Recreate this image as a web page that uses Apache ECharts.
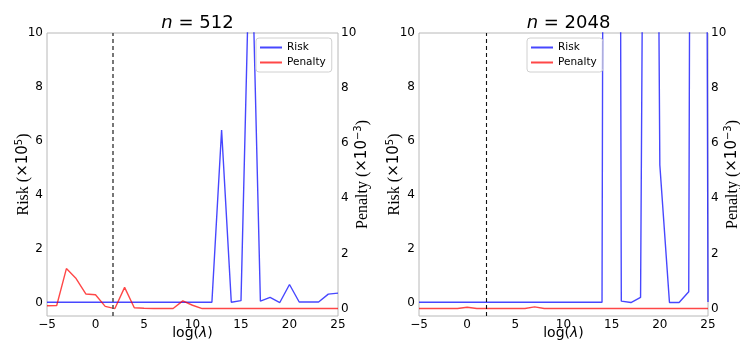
<!DOCTYPE html>
<html><head><meta charset="utf-8">
<script src="https://cdn.jsdelivr.net/npm/echarts@6/dist/echarts.min.js"></script>
<style>html,body{margin:0;padding:0;background:#fff}#c{width:740px;height:344px}</style>
</head><body><div id="c"></div>
<script>
// ----- data -----
const logLambda = [-5,-4,-3,-2,-1,0,1,2,3,4,5,6,7,8,9,10,11,12,13,14,15,16,17,18,19,20,21,22,23,24,25];
// n = 512  (Risk in 1e5, Penalty in 1e-3)
const risk512 = [0.01,0.01,0.01,0.01,0.01,0.01,0.01,0.01,0.01,0.01,0.01,0.01,0.01,0.01,0.01,0.01,0.01,0.01,
                 6.4,0.01,0.07,15,0.05,0.19,0.0,0.67,0.02,0.02,0.02,0.31,0.35];
const penalty512 = [0.1,0.11,1.45,1.09,0.53,0.5,0.08,0.0,0.77,0.03,0.01,0.0,0.0,0.0,0.28,0.12,
                    0,0,0,0,0,0,0,0,0,0,0,0,0,0,0];
// n = 2048
const risk2048 = [0.01,0.01,0.01,0.01,0.01,0.01,0.01,0.01,0.01,0.01,0.01,0.01,0.01,0.01,0.01,0.01,0.01,0.01,0.01,0.01,
                  150,0.05,0.0,0.19,60,5.1,0.0,0.0,0.4,120,0.02];
const penalty2048 = [0,0,0,0,0,0.05,0,0,0,0,0,0,0.06,0,0,0,0,0,0,0,0,0,0,0,0,0,0,0,0,0,0];
const optimalLogLambda = [1.8, 2.0];
const titles = ['512', '2048'];
const xTicks = [-5,0,5,10,15,20,25];
const yTicks = [0,2,4,6,8,10];
const seriesNames = ['Risk', 'Penalty'];

// ----- chart -----
const chart = echarts.init(document.getElementById('c'), null, {renderer:'canvas'});
const SANS = 'DejaVu Sans';
const SERIF = 'Liberation Serif';
const grids = [
  {left:47, top:33, width:291, height:283},
  {left:419, top:33, width:289, height:283}
];
const pair = (ys) => logLambda.map((x,i)=>[x, ys[i]]);
const minusFmt = v => String(v).replace('-', '\u2212');

const xAxes = grids.map((g,i)=>({
  type:'value', gridIndex:i, min:-5, max:25, interval:5,
  axisLine:{show:false}, axisTick:{show:false}, splitLine:{show:false},
  axisLabel:{fontFamily:SANS, fontSize:12, color:'#000', margin:3, formatter:minusFmt, customValues:xTicks},
  name:'log({l|λ})', nameLocation:'middle', nameGap:10, nameMoveOverlap:false,
  nameTextStyle:{fontFamily:SANS, fontSize:14, color:'#000', rich:{l:{fontFamily:SANS, fontStyle:'italic', fontSize:14}}}
}));
function yName(a, b) {
  return '{a|' + a + ' (}{b|×10}{s|' + b + '}{a|)}';
}
const nameRich = {
  a:{fontFamily:SERIF, fontSize:16, color:'#000'},
  b:{fontFamily:SANS, fontSize:15, color:'#000'},
  s:{fontFamily:SANS, fontSize:10, color:'#000', padding:[0,0,9,0]}
};
const yAxes = [];
grids.forEach((g,i)=>{
  yAxes.push({
    type:'value', gridIndex:i, position:'left', min:-0.5, max:10,
    axisLine:{show:false}, axisTick:{show:false}, splitLine:{show:false},
    axisLabel:{fontFamily:SANS, fontSize:12, color:'#000', margin:4, customValues:yTicks},
    name:yName('Risk','5'), nameLocation:'middle', nameGap:i===0?14:15, nameRotate:90, nameMoveOverlap:false,
    nameTextStyle:{rich:nameRich}
  });
  yAxes.push({
    type:'value', gridIndex:i, position:'right', min:-0.27, max:10,
    axisLine:{show:false}, axisTick:{show:false}, splitLine:{show:false},
    axisLabel:{fontFamily:SANS, fontSize:12, color:'#000', margin:3, customValues:yTicks},
    name:yName('Penalty','\u22123'), nameLocation:'middle', nameGap:15, nameRotate:90, nameMoveOverlap:false,
    nameTextStyle:{rich:nameRich}
  });
});
const riskColor = 'rgba(0,0,255,0.72)';
const penColor = 'rgba(255,0,0,0.72)';
const series = [];
[[risk512, penalty512],[risk2048, penalty2048]].forEach((d,i)=>{
  series.push({
    name:seriesNames[0], type:'line', xAxisIndex:i, yAxisIndex:2*i, data:pair(d[0]),
    symbol:'none', lineStyle:{color:riskColor, width:1.4}, itemStyle:{color:riskColor},
    markLine:{silent:true, symbol:'none', label:{show:false},
      lineStyle:{color:i===0?'#555':'#111', type:[4,3], width:i===0?1.6:1.1},
      data:[{xAxis:optimalLogLambda[i]}]}
  });
  series.push({
    name:seriesNames[1], type:'line', xAxisIndex:i, yAxisIndex:2*i+1, data:pair(d[1]),
    symbol:'none', lineStyle:{color:penColor, width:1.4}, itemStyle:{color:penColor}
  });
});

chart.setOption({
  animation:false,
  backgroundColor:'#fff',
  title: grids.map((g,i)=>({
    text:'{i|n} = ' + titles[i], left:g.left + g.width/2, top:9, textAlign:'center',
    textStyle:{fontFamily:SANS, fontSize:18, fontWeight:'normal', color:'#000',
      rich:{i:{fontFamily:SANS, fontStyle:'italic', fontSize:18, color:'#000'}}}
  })),
  legend: [256, 527].map(l=>({
    left:l, top:38, orient:'vertical', data:seriesNames,
    icon:'rect', itemWidth:22, itemHeight:2,
    borderColor:'#d0d0d0', borderWidth:1, borderRadius:3, padding:[4,6,4,4],
    itemGap:4,
    textStyle:{fontFamily:SANS, fontSize:10.5, color:'#000'}
  })),
  grid: grids.map(g=>Object.assign({show:true, borderColor:'#b8b8b8', borderWidth:1, backgroundColor:'transparent', outerBoundsMode:'none', containLabel:false}, g)),
  xAxis: xAxes,
  yAxis: yAxes,
  series: series
});
</script></body></html>
